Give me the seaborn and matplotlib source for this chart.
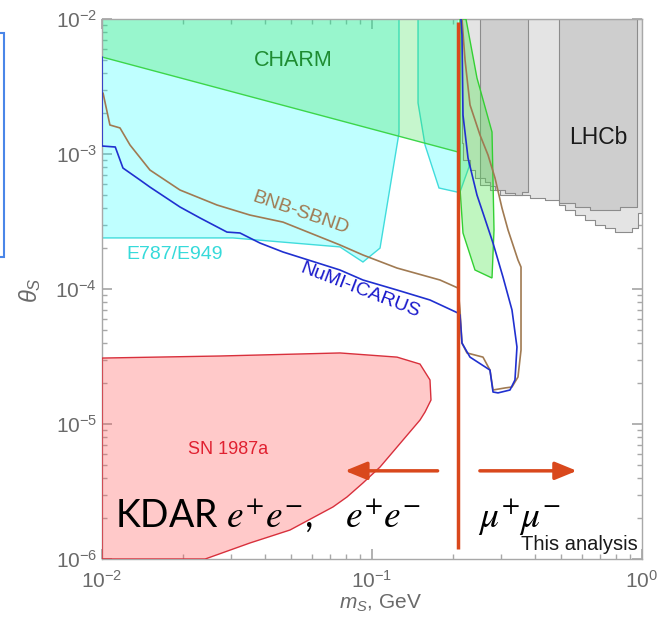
import numpy as np
import matplotlib
matplotlib.use("Agg")
import matplotlib.pyplot as plt
import seaborn as sns
from matplotlib.patches import Rectangle

# --- data (m_S in GeV, theta_S) ---
# CHARM: lower edge, filled up to the top of the plot
charm_m = [0.01, 0.2082]
charm_lo = [5.23e-3, 1.035e-3]

# E787/E949 (two pieces around the pi0 gap)
e949_left_m = [0.01, 0.01, 0.0305, 0.0761, 0.0926, 0.1071, 0.1259, 0.1259]
e949_left_th = [1e-2, 2.39e-4, 2.39e-4, 2.05e-4, 1.585e-4, 2.01e-4, 1.43e-3, 1e-2]
e949_right_m = [0.1481, 0.1481, 0.1572, 0.1771, 0.2064, 0.2118, 0.2287, 0.2154]
e949_right_th = [1e-2, 2.39e-3, 1.166e-3, 5.60e-4, 5.23e-4, 5.23e-4, 8.01e-4, 1e-2]

# green island right of the muon threshold
green_m = [0.2229, 0.2448, 0.2783, 0.2831, 0.2783, 0.2407, 0.2173, 0.2118, 0.2118]
green_th = [1e-2, 3.66e-3, 1.455e-3, 2.74e-4, 1.206e-4, 1.383e-4, 2.60e-4, 5.60e-4, 1e-2]

# LHCb: light envelope and two darker bands (lower edges)
lhcb_m = [0.2154, 0.2173, 0.2307, 0.2407, 0.2512, 0.2735, 0.2979, 0.3782, 0.3846,
          0.4373, 0.4928, 0.5186, 0.5649, 0.6151, 0.6698, 0.7295, 0.7943, 0.8650,
          0.9182, 0.9665, 1.0]
lhcb_lo = [1.2e-3, 9.03e-4, 7.61e-4, 6.64e-4, 5.89e-4, 5.41e-4, 4.97e-4, 4.97e-4, 4.72e-4,
           4.56e-4, 4.19e-4, 3.85e-4, 3.53e-4, 3.24e-4, 2.98e-4, 2.83e-4, 2.64e-4, 2.64e-4,
           2.83e-4, 3.66e-4, 4.56e-4]
band1_m = [0.2512, 0.2621, 0.2735, 0.2855, 0.3109, 0.3385, 0.3594, 0.3782]
band1_lo = [6.64e-4, 6.20e-4, 5.79e-4, 5.41e-4, 5.14e-4, 4.97e-4, 5.23e-4, 5.60e-4]
band2_m = [0.4928, 0.5649, 0.6417, 0.7295, 0.8288, 0.9029, 0.9583]
band2_lo = [4.34e-4, 4.05e-4, 3.85e-4, 3.85e-4, 4.05e-4, 4.05e-4, 4.56e-4]

# SN 1987a
sn_m = [0.01, 0.02735, 0.0761, 0.1238, 0.1506, 0.1640, 0.1654, 0.1572, 0.1506, 0.1238,
        0.1071, 0.0926, 0.0808, 0.0717, 0.0497, 0.0353, 0.0241, 0.01]
sn_th = [3.08e-5, 3.19e-5, 3.36e-5, 3.13e-5, 2.78e-5, 2.12e-5, 1.506e-5, 1.227e-5, 1.07e-5,
         6.75e-6, 4.80e-6, 3.66e-6, 2.88e-6, 2.43e-6, 1.64e-6, 1.314e-6, 1e-6, 1e-6]

# BNB-SBND sensitivity contour
bnb_m = [0.01009, 0.0107, 0.01166, 0.0127, 0.01505, 0.01945, 0.02667, 0.03532, 0.04682,
         0.0761, 0.0926, 0.1238, 0.1786, 0.2082, 0.2118, 0.2154, 0.2248, 0.2577, 0.2735,
         0.2807, 0.3109, 0.3300, 0.3473, 0.3564, 0.3564, 0.3473, 0.3190, 0.3030, 0.2855,
         0.2690, 0.2512, 0.2307, 0.2211, 0.2154]
bnb_th = [2.83e-3, 1.64e-3, 1.56e-3, 1.166e-3, 7.61e-4, 5.41e-4, 4.19e-4, 3.53e-4, 3.13e-4,
          2.12e-4, 1.786e-4, 1.43e-4, 1.166e-4, 1.017e-4, 6.99e-5, 3.98e-5, 3.36e-5, 3.13e-5,
          2.51e-5, 1.786e-5, 1.85e-5, 1.88e-5, 2.23e-5, 3.53e-5, 1.455e-4, 1.64e-4, 2.74e-4,
          3.98e-4, 6.64e-4, 9.83e-4, 1.383e-3, 2.31e-3, 4.97e-3, 1e-2]

# NuMI-ICARUS sensitivity contour
numi_m = [0.01, 0.01, 0.0112, 0.01196, 0.01383, 0.01505, 0.01945, 0.02307, 0.02904,
          0.03244, 0.03848, 0.04682, 0.0761, 0.0926, 0.1238, 0.1640, 0.2082, 0.2118,
          0.2154, 0.2307, 0.2735, 0.2807, 0.2929, 0.3244, 0.3385, 0.3443, 0.3300, 0.3056,
          0.2807, 0.2577, 0.2448, 0.2268, 0.2173, 0.2154, 0.2136]
numi_th = [5.23e-3, 1.146e-3, 1.127e-3, 7.87e-4, 6.42e-4, 5.69e-4, 4.05e-4, 3.36e-4, 2.64e-4,
           2.60e-4, 2.19e-4, 1.88e-4, 1.383e-4, 1.166e-4, 9.83e-5, 8.29e-5, 6.64e-5, 6.42e-5,
           3.98e-5, 3.13e-5, 2.51e-5, 1.726e-5, 1.70e-5, 1.786e-5, 2.12e-5, 3.72e-5, 6.99e-5,
           1.227e-4, 2.19e-4, 3.66e-4, 4.97e-4, 9.34e-4, 1.945e-3, 7.61e-3, 1e-2]

# muon threshold and arrows
m_thr = 0.209
thr_th = [1.19e-6, 9.5e-3]
arrow_th = 4.5e-6
arrow_left = [0.175, 0.0794]
arrow_right = [0.251, 0.574]

sns.set_theme(style="ticks")
plt.rcParams['font.family'] = ['Liberation Sans', 'DejaVu Sans']
plt.rcParams['mathtext.fontset'] = 'custom'
plt.rcParams['mathtext.rm'] = 'Liberation Sans'
plt.rcParams['mathtext.it'] = 'Liberation Sans:italic'

fig = plt.figure(figsize=(6.67, 6.23), dpi=100)
ax = fig.add_axes([0.1529, 0.1027, 0.8096, 0.8668])
ax.set_xscale('log')
ax.set_yscale('log')

# filled regions
ax.fill(e949_left_m, e949_left_th, facecolor=(0, 1, 1, 0.25), edgecolor='#40dcdc', lw=1, zorder=1)
ax.fill(e949_right_m, e949_right_th, facecolor=(0, 1, 1, 0.25), edgecolor='#40dcdc', lw=1, zorder=1)
ax.fill_between(charm_m, charm_lo, 1e-2, facecolor=(0.2, 0.88, 0.3, 0.28), edgecolor='none', zorder=2)
ax.plot(charm_m, charm_lo, color='#3cd64a', lw=1, zorder=2)

ax.fill_between(lhcb_m, lhcb_lo, 1e-2, step='post', facecolor='#e4e4e4', edgecolor='#8c8c8c', lw=0.8, zorder=2)
ax.fill_between(band1_m, band1_lo, 1e-2, step='post', facecolor='#cecece', edgecolor='#8c8c8c', lw=0.8, zorder=2)
ax.fill_between(band2_m, band2_lo, 1e-2, step='post', facecolor='#cecece', edgecolor='#8c8c8c', lw=0.8, zorder=2)

ax.fill(green_m, green_th, facecolor=(0.3, 0.9, 0.3, 0.35), edgecolor='#33d033', lw=1, zorder=3)
ax.fill(sn_m, sn_th, facecolor=(1, 0.3, 0.3, 0.3), edgecolor='#d8303c', lw=1, zorder=3)

# sensitivity curves
sns.lineplot(x=bnb_m, y=bnb_th, sort=False, estimator=None, color='#a07a52', lw=1.2, ax=ax, zorder=4)
sns.lineplot(x=numi_m, y=numi_th, sort=False, estimator=None, color='#2030d0', lw=1.2, ax=ax, zorder=4)

# threshold line and arrows
red = '#d9481c'
ax.vlines(m_thr, thr_th[0], thr_th[1], color=red, lw=2.5, zorder=5)
for xs in (arrow_left, arrow_right):
    ax.annotate("", xy=(xs[1], arrow_th), xytext=(xs[0], arrow_th),
                arrowprops=dict(arrowstyle="-|>,head_length=1.1,head_width=0.45",
                                color=red, lw=2.5, shrinkA=0, shrinkB=0), zorder=5)

ax.set_xlim(1e-2, 1)
ax.set_ylim(1e-6, 1e-2)

# labels inside the plot
ax.text(0.354, 0.924, "CHARM", transform=ax.transAxes, color='#1e8c32', fontsize=15.5, ha='center', va='center')
ax.text(0.367, 0.640, "BNB-SBND", transform=ax.transAxes, color='#a07a52', fontsize=14,
        ha='center', va='center', rotation=-19)
ax.text(0.135, 0.563, "E787/E949", transform=ax.transAxes, color='#36dada', fontsize=14, ha='center', va='center')
ax.text(0.478, 0.498, "NuMI-ICARUS", transform=ax.transAxes, color='#1a1acc', fontsize=14,
        ha='center', va='center', rotation=-21)
ax.text(0.233, 0.202, "SN 1987a", transform=ax.transAxes, color='#e02030', fontsize=13, ha='center', va='center')
ax.text(0.919, 0.781, "LHCb", transform=ax.transAxes, color='#1a1a1a', fontsize=16.5, ha='center', va='center')

big = dict(transform=ax.transAxes, fontsize=27, color='black', va='baseline', ha='left',
           family='Lato', math_fontfamily='stix')
ax.text(0.024, 0.059, r"KDAR $e^{+}e^{-}$,", **big)
ax.text(0.450, 0.059, r"$e^{+}e^{-}$", **big)
ax.text(0.696, 0.059, r"$\mu^{+}\mu^{-}$", **big)
ax.text(0.993, 0.026, "This analysis", transform=ax.transAxes, fontsize=14.5, color='#1a1a1a',
        ha='right', va='center')

# axes styling
for s in ax.spines.values():
    s.set_color('#a8a8a8')
    s.set_linewidth(1)
ax.tick_params(which='both', direction='in', top=True, right=True, colors='#a8a8a8',
               labelcolor='#6a6a6a', labelsize=15)
ax.tick_params(which='major', length=7)
ax.tick_params(which='minor', length=3.5)
ax.tick_params(axis='x', pad=8)

fig.text(0.045, 0.5345, r"$\theta_S$", rotation=90, fontsize=17, color='#6a6a6a', ha='center', va='center')
fig.text(0.57, 0.032, r"$m_S$, GeV", fontsize=15, color='#6a6a6a', ha='center', va='center')

# partial slide box at the left edge
fig.add_artist(Rectangle((-0.02, 0.5875), 0.02 + 4 / 667, 0.3596, transform=fig.transFigure,
                         fill=False, edgecolor='#4a86e8', lw=1.5))

fig.savefig("out.png", dpi=100)
